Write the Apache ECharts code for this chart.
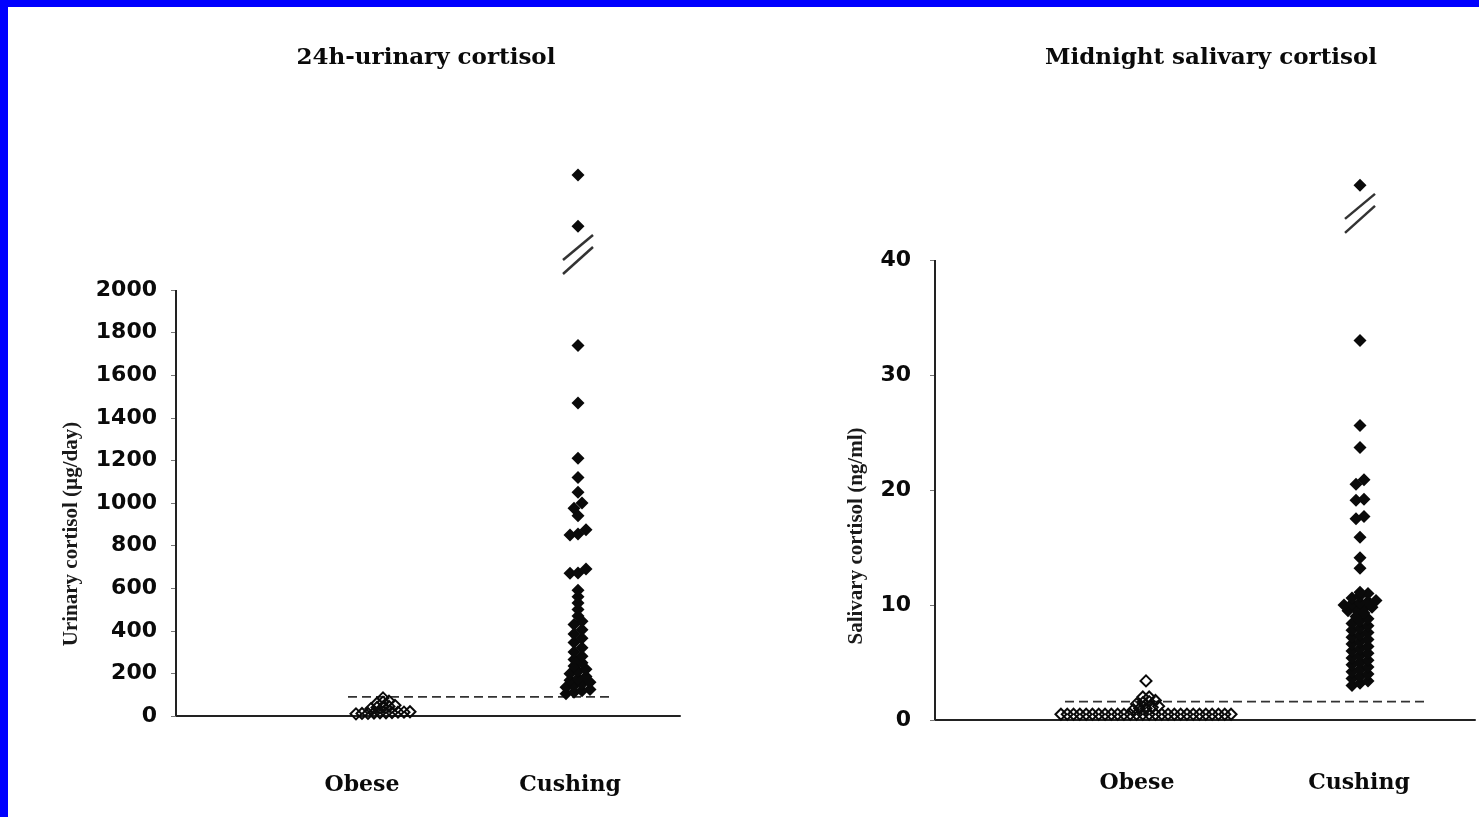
<!DOCTYPE html>
<html>
<head>
<meta charset="utf-8">
<title>Urinary and salivary cortisol: obese vs Cushing</title>
<script src="https://cdn.jsdelivr.net/npm/echarts@6/dist/echarts.min.js"></script>
<style>
  html, body { margin: 0; padding: 0; background: #ffffff; }
  #chart { width: 1479px; height: 817px; }
</style>
</head>
<body>
<div id="chart"></div>
<script>
// ---- Data -------------------------------------------------------------
const categories = ['Obese', 'Cushing'];

// 24h urinary free cortisol, µg/day
const urinaryObese = [10, 12, 12, 14, 15, 15, 16, 18, 18, 20,
                      35, 40, 42, 45, 50,
                      60, 65, 70,
                      85];
const urinaryCushing = [105, 112, 118, 125, 135, 142, 150, 158, 168, 175, 185,
                        198, 210, 220, 235, 250, 265, 280,
                        300, 320, 345, 365, 385, 405, 430, 445, 470, 500, 530, 560, 590,
                        670, 672, 690, 850, 855, 875, 940, 975, 1000,
                        1050, 1120, 1210, 1470, 1740];
// plotted above the axis break
const urinaryCushingAboveBreak = [2300, 2540];
const urinaryTicks = [0, 200, 400, 600, 800, 1000, 1200, 1400, 1600, 1800, 2000];
const urinaryCutoff = 90;

// Midnight salivary cortisol, ng/ml
const salivaryObese = [0.5, 0.5, 0.5, 0.5, 0.5, 0.5, 0.5, 0.5, 0.5, 0.5,
                       0.5, 0.5, 0.5, 0.5, 0.5, 0.5, 0.5, 0.5, 0.5, 0.5,
                       0.5, 0.5, 0.5, 0.5, 0.5, 0.5, 0.5, 0.5,
                       0.9, 1.0, 1.0, 1.1, 1.2,
                       1.4, 1.5, 1.6, 1.7,
                       2.0, 2.0,
                       3.4];
const salivaryCushing = [3.0, 3.2, 3.4, 3.6, 3.8, 4.0, 4.2, 4.4, 4.6, 4.8,
                         5.0, 5.2, 5.4, 5.6, 5.8, 6.0, 6.2, 6.4, 6.6, 6.8,
                         7.0, 7.2, 7.4, 7.6, 7.8, 8.0, 8.2, 8.4, 8.6, 8.8,
                         9.0, 9.3, 9.5, 9.6, 9.7, 9.8, 10.0, 10.1, 10.2, 10.3, 10.4,
                         10.6, 10.8, 11.0, 11.1,
                         13.2, 14.1, 15.9, 17.5, 17.7, 19.1, 19.2, 20.5, 20.9,
                         23.7, 25.6, 33.0];
// plotted above the axis break
const salivaryCushingAboveBreak = [46.5];
const salivaryTicks = [0, 10, 20, 30, 40];
const salivaryCutoff = 1.6;

// ---- Layout ------------------------------------------------------------
// x axes run in pixel units across each grid, so group centres are offsets
const panels = [
  { title: '24h-urinary cortisol', titleX: 421, yName: 'Urinary cortisol (µg/day)', nameX: 72, nameY: 534,
    grid: { left: 176, top: 151.6, width: 504, height: 564.4 }, yMax: 2650, yInterval: 200,
    labelMargin: 19, catLabelMargin: 58,
    groupX: [207, 402], labelX: [186, 394], cutoffX: [172, 436], axisTop: 2000,
    breakValue: 2169 },
  { title: 'Midnight salivary cortisol', titleX: 1206, yName: 'Salivary cortisol (ng/ml)', nameX: 857, nameY: 536,
    grid: { left: 935, top: 168, width: 540, height: 552 }, yMax: 48, yInterval: 10,
    labelMargin: 24, catLabelMargin: 52,
    groupX: [211, 425], labelX: [202, 424], cutoffX: [130, 492], axisTop: 40,
    breakValue: 44.1 }
];

// Simple dot-plot arrangement: values close together share a row and are
// spread sideways around the group centre; each keeps its own y value.
function dotColumn(values, center, binSize, step) {
  const sorted = values.slice().sort((a, b) => a - b);
  const bins = [];
  let cur = null;
  sorted.forEach(v => {
    if (!cur || v - cur.start > binSize + 1e-9) { cur = { start: v, items: [] }; bins.push(cur); }
    cur.items.push(v);
  });
  const out = [];
  bins.forEach(b => {
    const n = b.items.length;
    b.items.forEach((v, i) => out.push([center + (i - (n - 1) / 2) * step, v]));
  });
  return out;
}

const ink = '#0a0a0a';
const serif = 'DejaVu Serif';

const grids = [], xAxes = [], yAxes = [], titles = [], series = [], graphics = [];

panels.forEach((p, k) => {
  grids.push(Object.assign({ containLabel: false }, p.grid));
  titles.push({
    text: p.title, left: p.titleX, top: 42, textAlign: 'center',
    textStyle: { fontFamily: serif, fontWeight: 'bold', fontSize: 23, color: ink }
  });
  graphics.push({
    type: 'text', x: p.nameX, y: p.nameY, rotation: Math.PI / 2, silent: true,
    style: {
      text: p.yName, align: 'center', verticalAlign: 'middle', fill: '#1a1a1a',
      font: 'bold 21px "Liberation Serif"'
    }
  });
  xAxes.push({
    type: 'value', gridIndex: k, min: 0, max: p.grid.width,
    axisLine: { show: true, onZero: false, lineStyle: { color: '#222', width: 2 } },
    axisTick: { show: false }, splitLine: { show: false },
    axisLabel: {
      show: true, customValues: p.labelX, margin: p.catLabelMargin,
      formatter: v => categories[p.labelX.indexOf(v)] || '',
      fontFamily: serif, fontWeight: 'bold', fontSize: 22, color: ink
    }
  });
  const ticks = k === 0 ? urinaryTicks : salivaryTicks;
  yAxes.push({
    type: 'value', gridIndex: k, min: 0, max: p.yMax, interval: p.yInterval,
    axisLine: { show: false },
    axisTick: { show: true, customValues: ticks, length: 5, lineStyle: { color: '#777', width: 1 } },
    splitLine: { show: false },
    axisLabel: {
      customValues: ticks, margin: p.labelMargin, formatter: v => String(v),
      fontFamily: 'DejaVu Sans', fontWeight: 'bold', fontSize: 22, color: ink
    }
  });

  // vertical axis line stops at the last labelled tick
  series.push({
    type: 'line', xAxisIndex: k, yAxisIndex: k, silent: true, clip: false,
    symbol: 'none', data: [[0, 0], [0, p.axisTop]],
    lineStyle: { color: '#222', width: 2 }, z: 1
  });
  // upper limit of normal
  const cutoff = k === 0 ? urinaryCutoff : salivaryCutoff;
  series.push({
    type: 'line', xAxisIndex: k, yAxisIndex: k, silent: true, clip: false,
    symbol: 'none', data: [[p.cutoffX[0], cutoff], [p.cutoffX[1], cutoff]],
    lineStyle: { color: '#333', width: 1.6, type: [9, 5] }, z: 2
  });
  // axis-break mark on the Cushing column
  series.push({
    type: 'custom', xAxisIndex: k, yAxisIndex: k, silent: true, clip: false,
    data: [[p.groupX[1], p.breakValue]],
    renderItem: (params, api) => {
      const c = api.coord([api.value(0), api.value(1)]);
      const st = { stroke: '#333', lineWidth: 2.5 };
      return { type: 'group', children: [
        { type: 'line', shape: { x1: c[0] - 15, y1: c[1] + 6, x2: c[0] + 15, y2: c[1] - 19 }, style: st },
        { type: 'line', shape: { x1: c[0] - 15, y1: c[1] + 20, x2: c[0] + 15, y2: c[1] - 7 }, style: st }
      ] };
    }
  });
});

// Obese: open diamonds
series.push({
  type: 'scatter', xAxisIndex: 0, yAxisIndex: 0, symbol: 'diamond', symbolSize: 11,
  itemStyle: { color: 'transparent', borderColor: ink, borderWidth: 2, opacity: 1 },
  data: dotColumn(urinaryObese, panels[0].groupX[0], 21, 6), z: 3
});
series.push({
  type: 'scatter', xAxisIndex: 1, yAxisIndex: 1, symbol: 'diamond', symbolSize: 11,
  itemStyle: { color: 'transparent', borderColor: ink, borderWidth: 2, opacity: 1 },
  data: dotColumn(salivaryObese, panels[1].groupX[0], 0.3, 6.3), z: 3
});
// Cushing: filled diamonds
series.push({
  type: 'scatter', xAxisIndex: 0, yAxisIndex: 0, symbol: 'diamond', symbolSize: 13,
  itemStyle: { color: ink, opacity: 1 },
  data: dotColumn(urinaryCushing.concat(urinaryCushingAboveBreak), panels[0].groupX[1], 25, 8), z: 3
});
series.push({
  type: 'scatter', xAxisIndex: 1, yAxisIndex: 1, symbol: 'diamond', symbolSize: 13,
  itemStyle: { color: ink, opacity: 1 },
  data: dotColumn(salivaryCushing.concat(salivaryCushingAboveBreak), panels[1].groupX[1], 0.45, 8), z: 3
});

graphics.push(
  { type: 'rect', left: 0, top: 0, shape: { width: 1479, height: 7 }, style: { fill: '#0000ff' }, silent: true },
  { type: 'rect', left: 0, top: 0, shape: { width: 8, height: 817 }, style: { fill: '#0000ff' }, silent: true }
);

const chart = echarts.init(document.getElementById('chart'), null, { renderer: 'canvas' });
chart.setOption({
  backgroundColor: '#ffffff',
  animation: false,
  title: titles,
  grid: grids,
  xAxis: xAxes,
  yAxis: yAxes,
  series: series,
  graphic: graphics
});
</script>
</body>
</html>
